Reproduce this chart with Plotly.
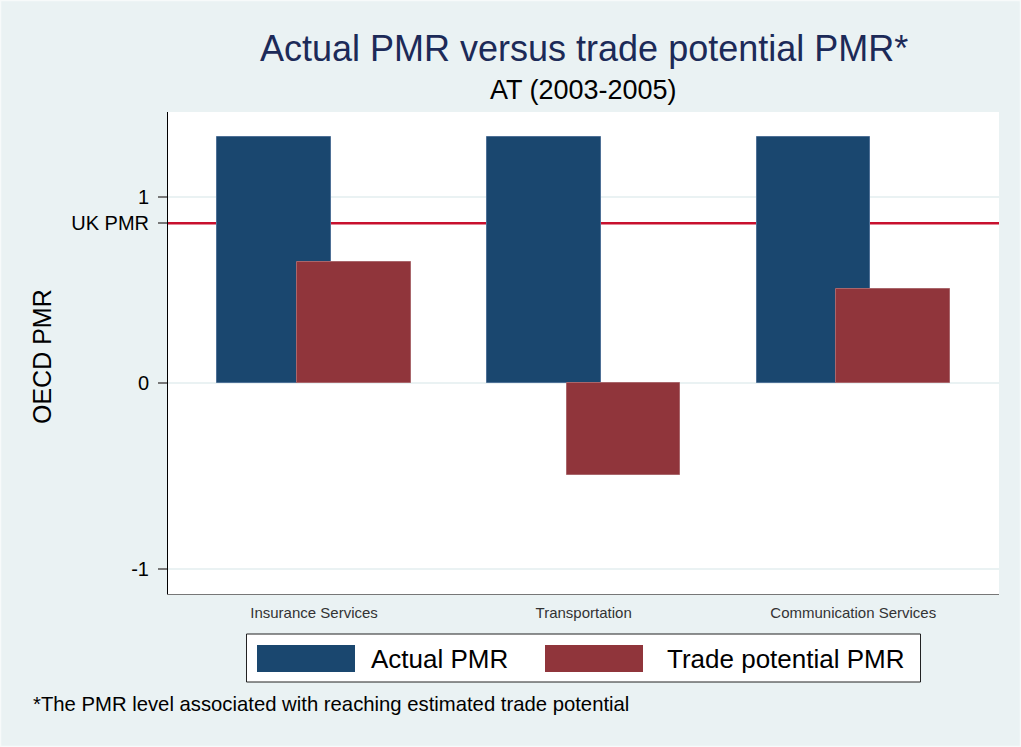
import plotly.graph_objects as go

# --- dados ---
categorias = ["Insurance Services", "Transportation", "Communication Services"]
actual_pmr = [1.32, 1.32, 1.32]
trade_pmr = [0.65, -0.495, 0.505]
uk_pmr = 0.859
y_ticks = [-1, 0, 1]

# cores no estilo s2color do Stata
BG = "#EAF2F3"
NAVY = "#1A476F"
MAROON = "#90353B"
UK_RED = "#C8102E"
FONT = "Liberation Sans, Arial, sans-serif"

# geometria da figura (pixels)
W, H = 1021, 747
ML, MR, MT, MB = 168, 22, 112, 153
PW, PH = W - ML - MR, H - MT - MB
Y_RANGE = [-1.134, 1.457]


def px_x(p):
    return (p - ML) / PW


def px_y(p):
    return (H - MB - p) / PH


pos = list(range(len(categorias)))
largura = 0.422

fig = go.Figure()

fig.add_trace(go.Bar(
    x=pos, y=actual_pmr, width=largura, offset=-0.3585,
    marker=dict(color=NAVY, line=dict(color="#4E7096", width=1)),
    name="Actual PMR", showlegend=False,
))
fig.add_trace(go.Bar(
    x=pos, y=trade_pmr, width=largura, offset=-0.0635,
    marker=dict(color=MAROON, line=dict(color="#A9666B", width=1)),
    name="Trade potential PMR", showlegend=False,
))

# linha do PMR do Reino Unido (por baixo das barras)
fig.add_shape(type="line", xref="paper", x0=0, x1=1, yref="y", y0=uk_pmr, y1=uk_pmr,
              line=dict(color=UK_RED, width=2.5), layer="below")

# moldura clara em volta da figura
fig.add_shape(type="rect", xref="paper", yref="paper",
              x0=px_x(0.5), x1=px_x(W - 0.5), y0=px_y(H - 0.5), y1=px_y(0.5),
              line=dict(color="#F7FAFA", width=1.5), layer="below")

# legenda desenhada à mão (caixa com retângulos largos, como no Stata)
fig.add_shape(type="rect", xref="paper", yref="paper",
              x0=px_x(246.5), x1=px_x(920.5), y0=px_y(682), y1=px_y(634),
              fillcolor="white", line=dict(color="#222222", width=1))
fig.add_shape(type="rect", xref="paper", yref="paper",
              x0=px_x(257), x1=px_x(355), y0=px_y(672), y1=px_y(645),
              fillcolor=NAVY, line=dict(width=0))
fig.add_shape(type="rect", xref="paper", yref="paper",
              x0=px_x(545), x1=px_x(643), y0=px_y(672), y1=px_y(645),
              fillcolor=MAROON, line=dict(width=0))

anots = [
    dict(text="Actual PMR versus trade potential PMR*", x=0.5, y=px_y(48),
         font=dict(size=36, color="#1C2A58")),
    dict(text="AT (2003-2005)", x=0.5, y=px_y(90),
         font=dict(size=27, color="black")),
    dict(text="Actual PMR", x=px_x(369), y=px_y(659), xanchor="left",
         font=dict(size=26, color="black")),
    dict(text="Trade potential PMR", x=px_x(665), y=px_y(659), xanchor="left",
         font=dict(size=26, color="black")),
    dict(text="*The PMR level associated with reaching estimated trade potential",
         x=px_x(31), y=px_y(704), xanchor="left",
         font=dict(size=20.3, color="black")),
    dict(text="OECD PMR", x=px_x(42), y=px_y(357), textangle=-90,
         font=dict(size=25, color="black")),
]
for a in anots:
    a.setdefault("xanchor", "center")
    fig.add_annotation(xref="paper", yref="paper", yanchor="middle",
                       showarrow=False, **a)

fig.update_layout(
    width=W, height=H,
    margin=dict(l=ML, r=MR, t=MT, b=MB),
    paper_bgcolor=BG, plot_bgcolor="white",
    barmode="overlay", bargap=0,
    font=dict(family=FONT, color="black"),
    showlegend=False,
)

fig.update_xaxes(
    range=[-0.5417, 2.5405], tickvals=pos, ticktext=categorias,
    tickfont=dict(size=15, color="#333333"), ticks="", ticklabelstandoff=5,
    showgrid=False, zeroline=False,
    showline=True, linecolor="#777777", linewidth=1,
)

tick_style = dict(
    tickfont=dict(size=20, color="black"),
    ticks="outside", ticklen=9, tickwidth=1.5, tickcolor="#777777", ticklabelstandoff=5,
)

fig.update_yaxes(
    range=Y_RANGE, tickvals=y_ticks, ticktext=[str(v) for v in y_ticks],
    showgrid=True, gridcolor=BG, gridwidth=2, zeroline=False,
    showline=True, linecolor="black", linewidth=1,
    **tick_style,
)

# eixo sobreposto só para o rótulo "UK PMR" (sem grade por cima da linha vermelha)
fig.update_layout(yaxis2=dict(
    overlaying="y", side="left", range=Y_RANGE,
    tickvals=[uk_pmr], ticktext=["UK PMR"],
    showgrid=False, zeroline=False, showline=False,
    **tick_style,
))
fig.add_trace(go.Scatter(x=[None], y=[None], yaxis="y2", showlegend=False, hoverinfo="skip"))

fig.write_html("out.html", config=dict(displayModeBar=False),
               post_script="document.body.style.margin='0';")
